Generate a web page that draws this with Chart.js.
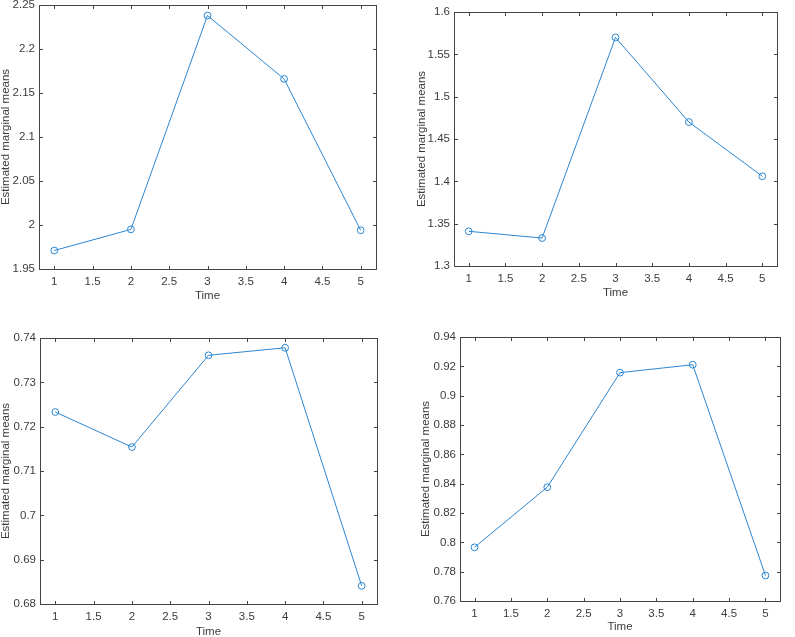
<!DOCTYPE html>
<html>
<head>
<meta charset="utf-8">
<script src="https://cdn.jsdelivr.net/npm/chart.js@4"></script>
<style>
  html, body { margin: 0; padding: 0; background: #fff; }
  body { width: 795px; height: 637px; position: relative; overflow: hidden; }
  canvas { position: absolute; }
</style>
</head>
<body>
<canvas id="c1"></canvas>
<canvas id="c2"></canvas>
<canvas id="c3"></canvas>
<canvas id="c4"></canvas>
<script>
// Estimated marginal means over time, four panels

const timePoints = [1, 2, 3, 4, 5];
const xTicks = [1, 1.5, 2, 2.5, 3, 3.5, 4, 4.5, 5];

const means1 = [1.971, 1.995, 2.238, 2.166, 1.994];
const means2 = [1.341, 1.333, 1.570, 1.470, 1.406];
const means3 = [0.7233, 0.7154, 0.7361, 0.7378, 0.6841];
const means4 = [0.7966, 0.8376, 0.9157, 0.9211, 0.7774];

const yTicks1 = [1.95, 2, 2.05, 2.1, 2.15, 2.2, 2.25];
const yTicks2 = [1.3, 1.35, 1.4, 1.45, 1.5, 1.55, 1.6];
const yTicks3 = [0.68, 0.69, 0.7, 0.71, 0.72, 0.73, 0.74];
const yTicks4 = [0.76, 0.78, 0.8, 0.82, 0.84, 0.86, 0.88, 0.9, 0.92, 0.94];

const xLabel = 'Time';
const yLabel = 'Estimated marginal means';

const lineColor = '#2a86d1';
const axisColor = '#444444';
const textColor = '#3c3c3c';
const fontFamily = '"Liberation Sans", Arial, Helvetica, sans-serif';
const fontSize = 11.5;

// canvas rect + plot box (page pixels) + title offsets
const panels = [
  { id: 'c1', means: means1, yTicks: yTicks1, cx: 0,   cy: 0,   cw: 390, ch: 310, L: 39,  R: 376, T: 3,   B: 269, yTitlePad: 0,    xTitlePad: 8.5 },
  { id: 'c2', means: means2, yTicks: yTicks2, cx: 400, cy: 0,   cw: 395, ch: 310, L: 454, R: 777, T: 12,  B: 266, yTitlePad: 16.5, xTitlePad: 11.5 },
  { id: 'c3', means: means3, yTicks: yTicks3, cx: 0,   cy: 320, cw: 390, ch: 317, L: 40,  R: 377, T: 338, B: 604, yTitlePad: 0,    xTitlePad: 0 },
  { id: 'c4', means: means4, yTicks: yTicks4, cx: 400, cy: 320, cw: 395, ch: 317, L: 460, R: 780, T: 337, B: 601, yTitlePad: 20.2, xTitlePad: 4.5 }
];

// MATLAB style box with inward ticks on all four sides
const matlabBox = {
  id: 'matlabBox',
  afterDatasetsDraw(chart) {
    const { ctx, chartArea: a, scales: { x, y } } = chart;
    ctx.save();
    ctx.strokeStyle = axisColor;
    ctx.lineWidth = 1;
    ctx.beginPath();
    x.ticks.forEach(t => {
      const px = Math.round(x.getPixelForValue(t.value)) + 0.5;
      ctx.moveTo(px, a.bottom); ctx.lineTo(px, a.bottom - 3);
      ctx.moveTo(px, a.top + 1); ctx.lineTo(px, a.top + 4);
    });
    y.ticks.forEach(t => {
      const py = Math.round(y.getPixelForValue(t.value)) + 0.5;
      ctx.moveTo(a.left + 1, py); ctx.lineTo(a.left + 4, py);
      ctx.moveTo(a.right, py); ctx.lineTo(a.right - 3, py);
    });
    ctx.stroke();
    ctx.strokeRect(a.left + 0.5, a.top + 0.5, a.right - a.left, a.bottom - a.top);
    ctx.restore();
  }
};

const fmt = v => String(parseFloat(Number(v).toFixed(4)));

panels.forEach(p => {
  const canvas = document.getElementById(p.id);
  canvas.width = p.cw;
  canvas.height = p.ch;
  canvas.style.left = p.cx + 'px';
  canvas.style.top = p.cy + 'px';

  new Chart(canvas.getContext('2d'), {
    type: 'scatter',
    data: {
      datasets: [{
        data: timePoints.map((t, i) => ({ x: t, y: p.means[i] })),
        showLine: true,
        borderColor: lineColor,
        borderWidth: 1,
        pointStyle: 'circle',
        pointRadius: 3.4,
        pointBorderWidth: 1,
        pointBorderColor: lineColor,
        pointBackgroundColor: 'rgba(0,0,0,0)',
        clip: false
      }]
    },
    options: {
      responsive: false,
      animation: false,
      devicePixelRatio: 1,
      layout: {
        padding: { left: 0, top: p.T - p.cy, right: p.cx + p.cw - p.R, bottom: 0 }
      },
      plugins: { legend: { display: false }, tooltip: { enabled: false } },
      scales: {
        x: {
          type: 'linear',
          min: 0.8,
          max: 5.2,
          grid: { display: false, drawTicks: false },
          border: { display: false },
          afterBuildTicks: s => { s.ticks = xTicks.map(v => ({ value: v })); },
          afterFit: s => {
            s.height = p.cy + p.ch - p.B;
            s.paddingLeft = 0; s.paddingRight = 0;
          },
          ticks: {
            color: textColor,
            padding: 6,
            maxRotation: 0,
            autoSkip: false,
            font: { family: fontFamily, size: fontSize },
            callback: fmt
          },
          title: {
            display: true,
            text: xLabel,
            color: textColor,
            font: { family: fontFamily, size: fontSize, lineHeight: 1 },
            padding: { top: 0, bottom: p.xTitlePad - 0.25 }
          }
        },
        y: {
          type: 'linear',
          min: p.yTicks[0],
          max: p.yTicks[p.yTicks.length - 1],
          grid: { display: false, drawTicks: false },
          border: { display: false },
          afterBuildTicks: s => { s.ticks = p.yTicks.map(v => ({ value: v })); },
          afterFit: s => {
            s.width = p.L - p.cx;
            s.paddingTop = 0; s.paddingBottom = 0;
          },
          ticks: {
            color: textColor,
            padding: 4,
            autoSkip: false,
            font: { family: fontFamily, size: fontSize },
            callback: fmt
          },
          title: {
            display: true,
            text: yLabel,
            color: textColor,
            font: { family: fontFamily, size: fontSize, lineHeight: 1 },
            padding: { top: Math.max(p.yTitlePad - 0.25, 0), bottom: 0 }
          }
        }
      }
    },
    plugins: [matlabBox]
  });
});
</script>
</body>
</html>
